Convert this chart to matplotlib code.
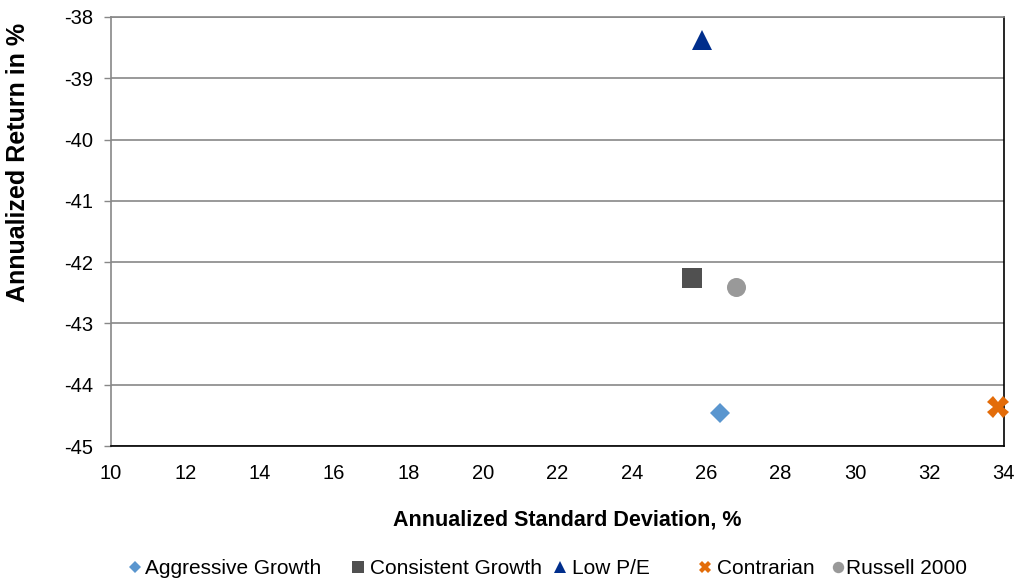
import matplotlib
matplotlib.use("Agg")
import matplotlib.pyplot as plt
from matplotlib.lines import Line2D

plt.rcParams['font.family'] = ['Liberation Sans', 'DejaVu Sans']
plt.rcParams['axes.unicode_minus'] = False

# Risk / return of each style portfolio
series_names = ["Aggressive Growth", "Consistent Growth", "Low P/E", "Contrarian", "Russell 2000"]
std_dev = [26.37, 25.61, 25.90, 33.84, 26.81]
returns = [-44.46, -42.26, -38.38, -44.37, -42.40]

x_ticks = [10, 12, 14, 16, 18, 20, 22, 24, 26, 28, 30, 32, 34]
y_ticks = [-45, -44, -43, -42, -41, -40, -39, -38]

markers = ["D", "s", "^", "X", "o"]
sizes = [10.2, 14.4, 15.0, 15.5, 13.7]
colors = ["#5A96CF", "#505050", "#002E8C", "#E36C09", "#999999"]

W, H = 1018, 580
fig = plt.figure(figsize=(W / 100, H / 100), dpi=100)
ax = fig.add_axes([0.109, 0.231, 0.877, 0.7397])

for name, x, y, m, s, c in zip(series_names, std_dev, returns, markers, sizes, colors):
    ax.plot([x], [y], linestyle="none", marker=m, markersize=s, color=c,
            markeredgewidth=0, label=name, clip_on=False, zorder=5)

ax.set_xlim(10, 34)
ax.set_ylim(-45, -38)
ax.set_xticks(x_ticks)
ax.set_yticks(y_ticks)
ax.tick_params(axis="both", labelsize=14.5, colors="#000000")
ax.tick_params(axis="y", length=5, width=1, color="#888888", pad=8)
ax.tick_params(axis="x", length=0, pad=13)

ax.grid(axis="y", color="#888888", linewidth=1.2)
ax.set_axisbelow(True)

ax.spines["left"].set_color("#888888")
ax.spines["left"].set_linewidth(1.2)
ax.spines["top"].set_color("#888888")
ax.spines["top"].set_linewidth(1.2)
ax.spines["bottom"].set_color("#000000")
ax.spines["bottom"].set_linewidth(1.2)
ax.spines["right"].set_color("#000000")
ax.spines["right"].set_linewidth(1.2)

ax.set_xlabel("Annualized Standard Deviation, %", fontsize=15.5, fontweight="bold")
ax.set_ylabel("Annualized Return in %", fontsize=18, fontweight="bold")
ax.xaxis.set_label_coords(0.511, -0.1725)
ax.yaxis.set_label_coords(-0.104, 0.662)
ax.xaxis.label.set_va("center")
ax.yaxis.label.set_va("center")

# Legend row along the bottom: marker followed by its series name
legend_marker_px = [135, 358, 560, 705, 838]
legend_text_px = [145, 370, 572, 717, 846]
legend_y = 1 - 567 / H
for name, m, s, c, mx, tx in zip(series_names, markers, sizes, colors,
                                 legend_marker_px, legend_text_px):
    fig.add_artist(Line2D([mx / W], [legend_y], transform=fig.transFigure,
                          linestyle="none", marker=m, markersize=s * 0.6,
                          color=c, markeredgewidth=0))
    fig.text(tx / W, legend_y, name, fontsize=15, ha="left", va="center_baseline")

fig.savefig("out.png", dpi=100)
